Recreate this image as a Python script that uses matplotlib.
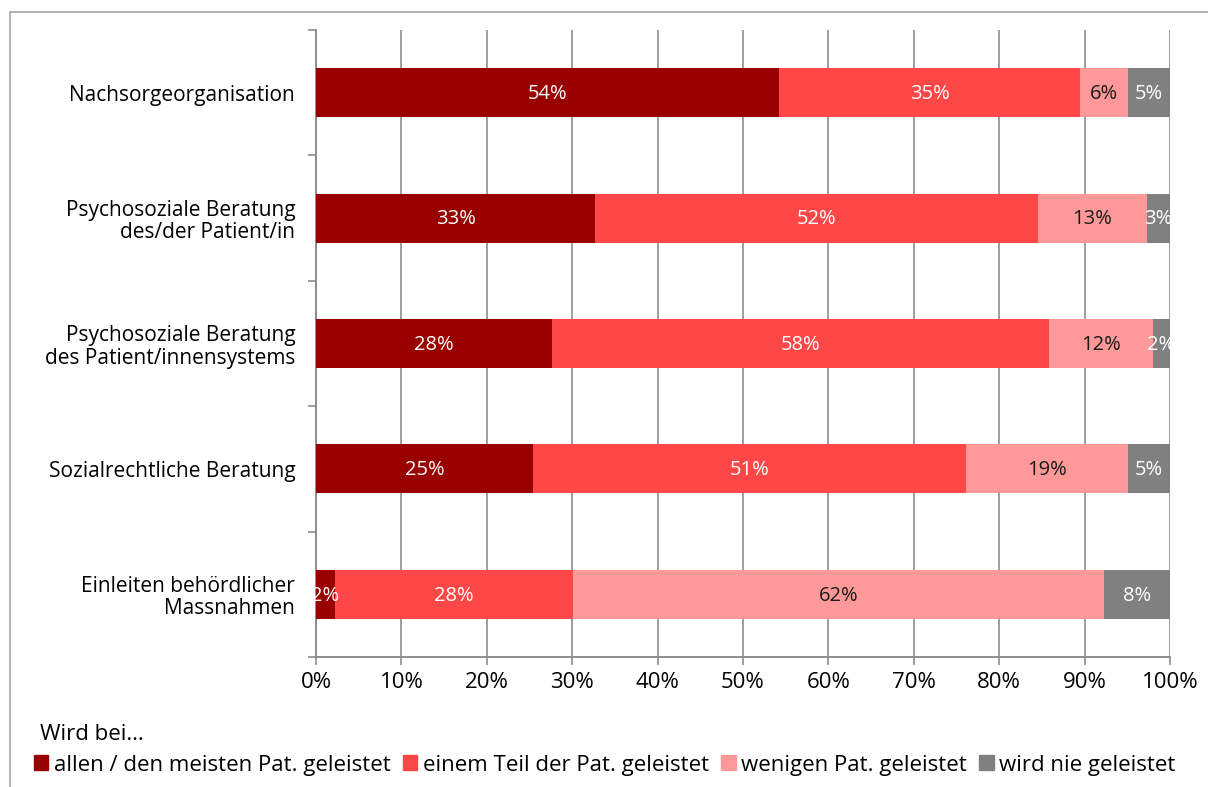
import matplotlib.pyplot as plt
import matplotlib.patches as mpatches
import numpy as np

plt.rcParams['font.family'] = ['Open Sans', 'DejaVu Sans']

categories = [
    "Nachsorgeorganisation",
    "Psychosoziale Beratung\ndes/der Patient/in",
    "Psychosoziale Beratung\ndes Patient/innensystems",
    "Sozialrechtliche Beratung",
    "Einleiten behördlicher\nMassnahmen",
]
series_names = [
    "allen / den meisten Pat. geleistet",
    "einem Teil der Pat. geleistet",
    "wenigen Pat. geleistet",
    "wird nie geleistet",
]
allen = [54.2, 32.7, 27.6, 25.4, 2.2]
teil = [35.3, 51.8, 58.2, 50.7, 27.9]
wenige = [5.6, 12.8, 12.2, 19.0, 62.2]
nie = [4.9, 2.7, 2.0, 4.9, 7.7]
labels = [
    ["54%", "35%", "6%", "5%"],
    ["33%", "52%", "13%", "3%"],
    ["28%", "58%", "12%", "2%"],
    ["25%", "51%", "19%", "5%"],
    ["2%", "28%", "62%", "8%"],
]

colors = ["#990000", "#FF4747", "#FF9999", "#808080"]
text_colors = ["white", "white", "#1a1a1a", "white"]
grid_col = "#8c8c8c"

fig = plt.figure(figsize=(12.08, 7.87), dpi=100)
W, H = 1208, 787
ax = fig.add_axes([316 / W, 1 - 657 / H, (1170 - 316) / W, (657 - 30) / H])

# outer frame of the chart area
fig.patches.append(mpatches.Rectangle((10 / W, -0.1), 1.2, 1 - 12 / H + 0.1,
                                      transform=fig.transFigure, fill=False,
                                      edgecolor="#a6a6a6", linewidth=1.2))

data = np.array([allen, teil, wenige, nie]).T
y = np.arange(len(categories))
left = np.zeros(len(categories))
for j in range(4):
    bars = ax.barh(y, data[:, j], left=left, height=0.39, color=colors[j],
                   label=series_names[j], zorder=3)
    for i, b in enumerate(bars):
        t = ax.text(left[i] + data[i, j] / 2, y[i] + 0.01, labels[i][j],
                    ha="center", va="center", color=text_colors[j],
                    fontsize=14.5, zorder=4)
        t.set_clip_path(b)
    left += data[:, j]

ax.set_xlim(0, 100)
ax.set_ylim(len(categories) - 0.5, -0.5)
ax.set_xticks(np.arange(0, 101, 10))
ax.set_xticklabels([f"{v}%" for v in range(0, 101, 10)], fontsize=16)
ax.set_yticks(y)
ax.set_yticklabels(categories, fontsize=15, linespacing=1.1)
ax.set_yticks(np.arange(-0.5, len(categories)), minor=True)
ax.tick_params(axis="y", which="major", length=0, pad=15)
ax.tick_params(axis="y", which="minor", length=6, color=grid_col, width=1.2)
ax.tick_params(axis="x", length=6, color=grid_col, width=1.2, pad=5)
for lbl in ax.get_yticklabels():
    lbl.set_multialignment("right")

ax.grid(axis="x", color=grid_col, linewidth=1.2, zorder=0)
for s in ["top", "right"]:
    ax.spines[s].set_visible(False)
for s in ["left", "bottom"]:
    ax.spines[s].set_color(grid_col)
    ax.spines[s].set_linewidth(1.4)

fig.text(40 / W, 1 - 735 / H, "Wird bei…", fontsize=16, va="center", ha="left")
handles = [mpatches.Patch(color=c) for c in colors]
fig.legend(handles, series_names, loc="center left", bbox_to_anchor=(34 / W, 1 - 765 / H),
           ncol=4, frameon=False, fontsize=16, handlelength=0.65, handleheight=0.65,
           handletextpad=0.25, columnspacing=0.55, borderaxespad=0, borderpad=0)

fig.savefig("out.png", dpi=100)
